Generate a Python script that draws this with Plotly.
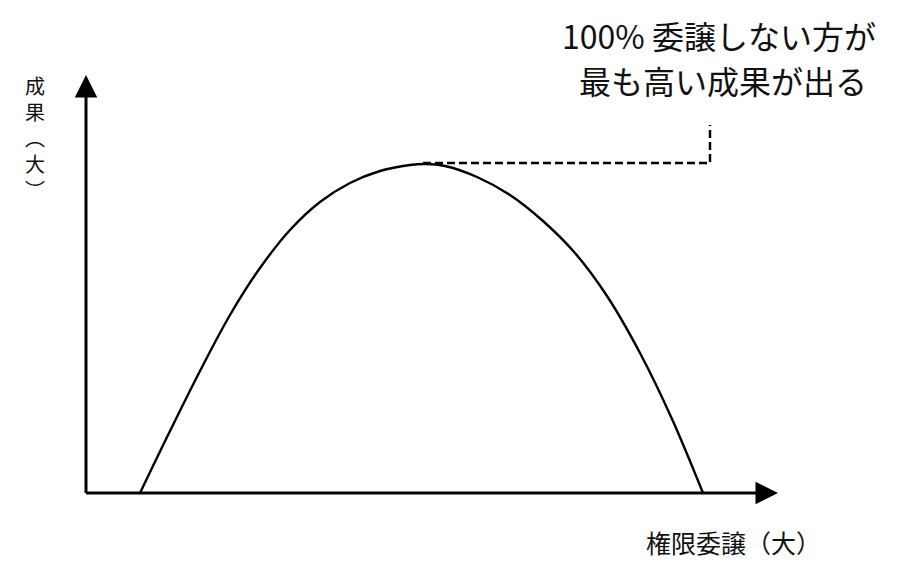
import plotly.graph_objects as go

# Conceptual curve: delegation level (x) vs outcome (y)
delegation = [54, 84, 114, 144, 174, 204, 234, 264, 294, 324, 339,
              359, 391, 424, 457, 489, 521, 554, 586, 617]
outcome = [0, 62, 122, 178, 225, 263, 291, 310, 322, 328, 329,
           327, 316, 298, 272, 240, 197, 140, 74, 0]

# Callout leader (dashed) from peak to the note
leader_x = [337, 624, 624]
leader_y = [330, 330, 368]

x_axis_end = 692
y_axis_end = 418

note_lines = ["100% 委譲しない方が", "最も高い成果が出る"]
x_label = "権限委譲（大）"
y_label = "成<br>果<br>︵<br>大<br>︶"

FONT = "Noto Sans CJK JP"

fig = go.Figure()
fig.add_trace(go.Scatter(x=delegation, y=outcome, mode="lines",
                         line=dict(color="black", width=2.4, shape="spline", smoothing=1.0),
                         hoverinfo="skip", showlegend=False))
fig.add_trace(go.Scatter(x=leader_x, y=leader_y, mode="lines",
                         line=dict(color="black", width=2.5, dash="8px,4px"),
                         hoverinfo="skip", showlegend=False))

# axes with arrows
fig.add_annotation(x=x_axis_end, y=0, ax=-1.5, ay=0, xref="x", yref="y", axref="x", ayref="y",
                   showarrow=True, arrowhead=2, arrowsize=1.5, arrowwidth=3, arrowcolor="black",
                   text="", standoff=0, startstandoff=0)
fig.add_annotation(x=0, y=y_axis_end, ax=0, ay=-1.5, xref="x", yref="y", axref="x", ayref="y",
                   showarrow=True, arrowhead=2, arrowsize=1.5, arrowwidth=3, arrowcolor="black",
                   text="", standoff=0, startstandoff=0)

# note text
fig.add_annotation(x=633, y=458, xref="x", yref="y", text=note_lines[0], showarrow=False,
                   font=dict(family=FONT, size=32, color="#111"), xanchor="center", yanchor="middle")
fig.add_annotation(x=637, y=413, xref="x", yref="y", text=note_lines[1], showarrow=False,
                   font=dict(family=FONT, size=32, color="#111"), xanchor="center", yanchor="middle")

# x label
fig.add_annotation(x=647, y=-49, xref="x", yref="y", text=x_label, showarrow=False,
                   font=dict(family=FONT, size=25, color="#111"), xanchor="center", yanchor="middle")

# y label (vertical)
fig.add_annotation(x=-51, y=356, xref="x", yref="y", text=y_label, showarrow=False,
                   font=dict(family=FONT, size=20, color="#111"), xanchor="center", yanchor="middle")

fig.update_layout(
    width=900, height=571,
    margin=dict(l=0, r=0, t=0, b=0),
    paper_bgcolor="white", plot_bgcolor="white",
    xaxis=dict(range=[-78, 822], visible=False, fixedrange=True),
    yaxis=dict(range=[-86, 485], visible=False, fixedrange=True),
    showlegend=False,
)

fig.write_html("out.html")
